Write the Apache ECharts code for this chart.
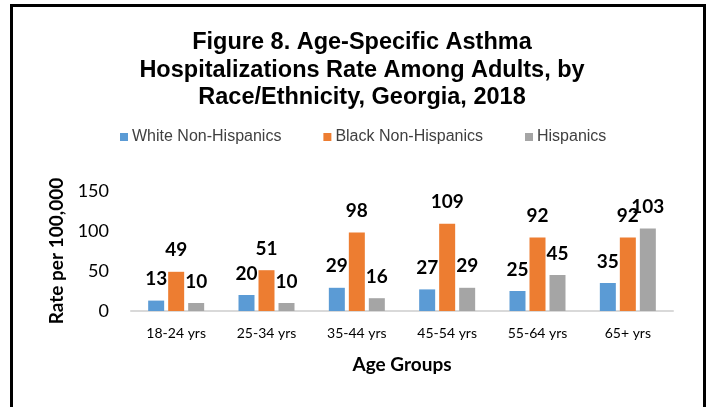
<!DOCTYPE html>
<html>
<head>
<meta charset="utf-8">
<script src="https://cdn.jsdelivr.net/npm/echarts@6/dist/echarts.min.js"></script>
<style>
  body { margin: 0; background: #fff; }
  #main { position: absolute; left: 0; top: 0; width: 709px; height: 407px; }
  #frame { position: absolute; left: 10px; top: 4px; width: 690px; height: 420px; border: 3px solid #000; pointer-events: none; }
</style>
</head>
<body>
<div id="main"></div>
<div id="frame"></div>
<script>
// age groups
const categories = ["18-24 yrs", "25-34 yrs", "35-44 yrs", "45-54 yrs", "55-64 yrs", "65+ yrs"];
// rate per 100,000
const whiteNH = [13, 20, 29, 27, 25, 35];
const blackNH = [49, 51, 98, 109, 92, 92];
const hispanic = [10, 10, 16, 29, 45, 103];
const yTicks = [0, 50, 100, 150];

const chart = echarts.init(document.getElementById("main"));

const labelStyle = {
  show: true,
  position: "top",
  distance: 12,
  fontFamily: "Lato",
  fontWeight: "bold",
  fontSize: 19,
  color: "#000"
};

const mkSeries = (name, data, color) => ({
  name: name,
  type: "bar",
  data: data,
  barWidth: 16,
  barGap: "25%",
  itemStyle: { color: color },
  label: labelStyle
});

const option = {
  animation: false,
  title: {
    text: "Figure 8. Age-Specific Asthma\nHospitalizations Rate Among Adults, by\nRace/Ethnicity, Georgia, 2018",
    left: 357,
    textAlign: "center",
    top: 24,
    textStyle: {
      fontFamily: "Liberation Sans",
      fontWeight: "bold",
      fontSize: 23.5,
      lineHeight: 27.5,
      color: "#000"
    }
  },
  legend: {
    data: ["White Non-Hispanics", "Black Non-Hispanics", "Hispanics"],
    left: 115,
    top: 124,
    icon: "rect",
    itemWidth: 8,
    itemHeight: 8,
    itemGap: 42,
    textStyle: {
      fontFamily: "Liberation Sans",
      fontSize: 16,
      color: "#404040",
      padding: [0, 0, 0, -1]
    }
  },
  grid: { left: 131, right: 36, top: 191, bottom: 96 },
  xAxis: {
    type: "category",
    data: categories,
    name: "Age Groups",
    nameLocation: "middle",
    nameGap: 44,
    nameTextStyle: { fontFamily: "Lato", fontWeight: "bold", fontSize: 19, color: "#000" },
    axisLine: { lineStyle: { color: "#d9d9d9", width: 2 } },
    axisTick: { show: false },
    axisLabel: { fontFamily: "Lato", fontSize: 14, color: "#000", margin: 15 }
  },
  yAxis: {
    type: "value",
    min: yTicks[0],
    max: yTicks[yTicks.length - 1],
    interval: 50,
    name: "Rate per 100,000",
    nameLocation: "middle",
    nameGap: 65,
    nameTextStyle: { fontFamily: "Lato", fontWeight: "bold", fontSize: 19, color: "#000" },
    axisLine: { show: false },
    axisTick: { show: false },
    splitLine: { show: false },
    axisLabel: { fontFamily: "Lato", fontSize: 18, color: "#000", margin: 22 }
  },
  series: [
    mkSeries("White Non-Hispanics", whiteNH, "#5B9BD5"),
    mkSeries("Black Non-Hispanics", blackNH, "#ED7D31"),
    mkSeries("Hispanics", hispanic, "#A5A5A5")
  ]
};

chart.setOption(option);
</script>
</body>
</html>
